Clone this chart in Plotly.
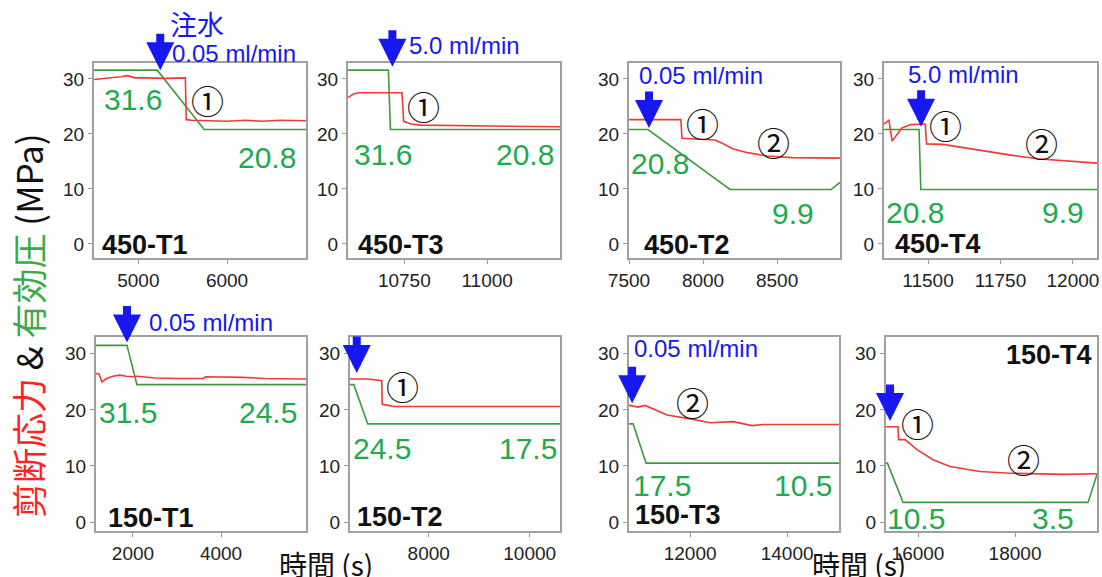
import plotly.graph_objects as go

# ---------------- data ----------------
panel_names = ["450-T1", "450-T3", "450-T2", "450-T4",
               "150-T1", "150-T2", "150-T3", "150-T4"]
flow_rates = ["0.05 ml/min", "5.0 ml/min", "0.05 ml/min", "5.0 ml/min",
              "0.05 ml/min", "0.05 ml/min", "0.05 ml/min", "0.05 ml/min"]
# effective pressure before / after injection (MPa)
pe_before = [31.6, 31.6, 20.8, 20.8, 31.5, 24.5, 17.5, 10.5]
pe_after = [20.8, 20.8, 9.9, 9.9, 24.5, 17.5, 10.5, 3.5]
# injection start time (s)
inject_t = [5247, 10714, 7635, 11476, 1864, 6574, 10804, 15423]

x_ranges = [[4500, 6890], [10580, 11220], [7500, 8925], [11348, 12083],
            [1160, 5930], [6440, 10600], [10740, 15070], [15340, 19690]]
x_ticks = [[5000, 6000], [10750, 11000], [7500, 8000, 8500],
           [11500, 11750, 12000], [2000, 4000], [8000, 10000],
           [12000, 14000], [16000, 18000]]

# shear stress (red)
shear_t = [
    [4500, 4650, 4800, 4880, 4960, 5100, 5300, 5530, 5540, 5600, 5800, 6000, 6200, 6400, 6600, 6890],
    [10580, 10595, 10610, 10743, 10748, 10770, 10800, 10900, 11000, 11100, 11220],
    [7500, 7850, 7858, 7950, 8080, 8130, 8200, 8300, 8430, 8600, 8925],
    [11348, 11365, 11376, 11410, 11440, 11490, 11495, 11550, 11600, 11680, 11780, 11876, 12000, 12083],
    [1160, 1230, 1295, 1400, 1545, 1700, 1850, 2000, 2100, 2500, 3000, 3600, 3650, 4500, 5000, 5930],
    [6440, 6800, 7069, 7079, 7200, 7300, 8000, 9000, 10600],
    [10740, 10928, 11072, 11300, 11526, 12000, 12412, 12887, 13278, 13500, 14000, 15070],
    [15340, 15588, 15600, 15732, 15979, 16309, 16660, 17278, 17897, 18500, 19000, 19690],
]
shear = [
    [29.9, 30.1, 30.4, 30.6, 30.2, 30.2, 30.1, 30.2, 22.6, 22.5, 22.4, 22.3, 22.5, 22.3, 22.5, 22.4],
    [26.6, 27.2, 27.5, 27.5, 22.3, 21.8, 21.6, 21.5, 21.5, 21.4, 21.3],
    [22.6, 22.6, 19.2, 19.1, 18.9, 18.3, 17.3, 16.6, 16.0, 15.7, 15.6],
    [21.8, 22.5, 18.7, 21.1, 21.7, 21.8, 18.2, 18.1, 17.7, 17.0, 16.2, 15.5, 15.0, 14.7],
    [26.5, 26.4, 25.0, 25.6, 26.0, 26.2, 26.0, 25.9, 26.0, 25.7, 25.6, 25.6, 25.9, 25.8, 25.6, 25.5],
    [25.5, 25.5, 25.2, 21.0, 20.8, 20.6, 20.6, 20.6, 20.6],
    [20.8, 20.5, 20.8, 20.0, 19.1, 18.4, 17.7, 17.9, 17.2, 17.4, 17.4, 17.4],
    [17.0, 17.0, 14.7, 14.7, 12.9, 11.1, 9.9, 9.0, 8.7, 8.6, 8.5, 8.6],
]

# effective pressure (green)
pe_t = [
    [4500, 5213, 5742, 6890],
    [10580, 10702, 10708, 11220],
    [7500, 7628, 8182, 8865, 8925],
    [11348, 11469, 11475, 12083],
    [1160, 1864, 2090, 5930],
    [6440, 6515, 6792, 10600],
    [10740, 10825, 11093, 15070],
    [15340, 15370, 15691, 19505, 19690],
]
pe = [
    [pe_before[0], pe_before[0], pe_after[0], pe_after[0]],
    [pe_before[1], pe_before[1], pe_after[1], pe_after[1]],
    [pe_before[2], pe_before[2], pe_after[2], pe_after[2], 11.2],
    [pe_before[3], pe_before[3], pe_after[3], pe_after[3]],
    [pe_before[4], pe_before[4], pe_after[4], pe_after[4]],
    [pe_before[5], pe_before[5], pe_after[5], pe_after[5]],
    [pe_before[6], pe_before[6], pe_after[6], pe_after[6]],
    [pe_before[7], pe_before[7], pe_after[7], pe_after[7], 8.5],
]

# ---------------- layout helpers ----------------
W, H = 1102, 577
FONT = "Liberation Sans, Arial, Noto Sans CJK JP, sans-serif"
CJK = "Noto Sans CJK JP, sans-serif"
RED = "#f03a3a"
GREEN_LINE = "#3f9a3f"
GREEN_TXT = "#1faa4f"
BLUE = "#1717f0"

# plot frames in pixels: (left, right, top, bottom)
frames = [(94, 306, 63, 258), (348, 560, 63, 258), (629, 840, 63, 258), (884, 1097, 63, 258),
          (96, 306, 337, 531), (350, 560, 337, 531), (629, 839, 337, 531), (886, 1097, 337, 531)]
y_ranges = [[-2.55, 32.9]] * 4 + [[-1.6, 33.0]] * 4

fig = go.Figure()
layout = dict(
    width=W, height=H, margin=dict(l=0, r=0, t=0, b=0, autoexpand=False),
    paper_bgcolor="white", plot_bgcolor="white", showlegend=False,
    font=dict(family=FONT, color="#222"),
)

for i in range(8):
    l, r, t, b = frames[i]
    sfx = "" if i == 0 else str(i + 1)
    layout["xaxis" + sfx] = dict(
        domain=[l / W, r / W], anchor="y" + sfx, range=x_ranges[i], automargin=False,
        tickvals=x_ticks[i], tickformat="d", ticks="outside", ticklen=4, tickcolor="#999",
        showline=True, mirror=True, linecolor="#a0a0a0", linewidth=2,
        showgrid=False, zeroline=False, tickfont=dict(size=19, color="#222"),
    )
    layout["yaxis" + sfx] = dict(
        domain=[1 - b / H, 1 - t / H], anchor="x" + sfx, range=y_ranges[i], automargin=False,
        tickvals=[0, 10, 20, 30], ticks="outside", ticklen=4, tickcolor="#999",
        showline=True, mirror=True, linecolor="#a0a0a0", linewidth=2,
        showgrid=False, zeroline=False, tickfont=dict(size=19, color="#222"),
    )
    fig.add_trace(go.Scatter(x=pe_t[i], y=pe[i], mode="lines",
                             line=dict(color=GREEN_LINE, width=1.6),
                             xaxis="x" + sfx, yaxis="y" + sfx))
    fig.add_trace(go.Scatter(x=shear_t[i], y=shear[i], mode="lines",
                             line=dict(color=RED, width=1.6),
                             xaxis="x" + sfx, yaxis="y" + sfx))

fig.update_layout(**layout)

# ---------------- annotations ----------------
# per panel: positions of the before/after pressure labels
pe_label_pos = [
    [(4944, 26.2), (6450, 15.8)],
    [(10687, 16.2), (11114, 16.2)],
    [(7709, 14.7), (8608, 5.6)],
    [(11455, 5.8), (11965, 5.8)],
    [(1886, 19.6), (5068, 19.6)],
    [(7069, 13.2), (9960, 13.2)],
    [(11423, 6.6), (14330, 6.6)],
    [(15959, 0.7), (18784, 0.7)],
]
name_pos = [(4573, -0.2, "left"), (10605, -0.2, "left"), (7588, -0.2, "left"),
            (11379, 0.0, "left"), (1386, 0.7, "left"), (6535, 0.9, "left"),
            (10825, 1.25, "left"), (19629, 29.8, "right")]
# flow-rate labels: x in data units, y as fraction of the plot height
rate_pos = [(5360, 1.049), (10759, 1.092), (7554, 0.935), (11424, 0.94),
            (2318, 1.077), (6436, 1.088), (10804, 0.94), (15320, 0.83)]
arrow_tip_y = [31.6, 32.2, 21.1, 21.3, 32.0, 26.6, 21.2, 18.0]
stage_marks = [
    [("①", 5775, 26.2)],
    [("①", 10807, 25.1)],
    [("①", 7993, 22.0), ("②", 8473, 18.5)],
    [("①", 11559, 21.6), ("②", 11890, 18.4)],
    [],
    [("①", 7485, 24.3)],
    [("②", 12041, 21.4)],
    [("①", 15979, 17.7), ("②", 18165, 11.3)],
]

ann = []
for i in range(8):
    sfx = "" if i == 0 else str(i + 1)
    xr, yr = "x" + sfx, "y" + sfx
    for val, (px, py) in zip([pe_before[i], pe_after[i]], pe_label_pos[i]):
        ann.append(dict(x=px, y=py, xref=xr, yref=yr, text=f"{val:.1f}",
                        showarrow=False, font=dict(size=30, color=GREEN_TXT)))
    nx, ny, anc = name_pos[i]
    ann.append(dict(x=nx, y=ny, xref=xr, yref=yr, text=f"<b>{panel_names[i]}</b>",
                    xanchor=anc, showarrow=False, font=dict(size=27, color="#111")))
    rx, ry = rate_pos[i]
    ann.append(dict(x=rx, y=ry, xref=xr, yref=yr + " domain", text=flow_rates[i],
                    xanchor="left", yanchor="middle",
                    showarrow=False, font=dict(size=24, color=BLUE)))
    ann.append(dict(x=inject_t[i], y=arrow_tip_y[i], xref=xr, yref=yr, text="",
                    showarrow=True, ax=0, ay=-38, arrowhead=2, arrowsize=0.7,
                    arrowwidth=8, arrowcolor=BLUE, standoff=0))
    for txt, sx, sy in stage_marks[i]:
        ann.append(dict(x=sx, y=sy, xref=xr, yref=yr, text=txt, showarrow=False,
                        font=dict(size=33, color="#111", family=CJK)))

# water injection label
ann.append(dict(x=5663, y=1.2, xref="x", yref="y domain", text="注水",
                xanchor="center", yanchor="middle", showarrow=False,
                font=dict(size=27, color=BLUE, family=CJK)))

# shared axis titles
ann.append(dict(x=27 / W, y=1 - 326 / H, xref="paper", yref="paper", textangle=-90,
                xanchor="center", yanchor="middle",
                showarrow=False, font=dict(size=35, family=CJK, color="#111"),
                text=f"<span style='color:#ff2222'>剪断応力</span> &amp; "
                     f"<span style='color:#3daa4a'>有効圧</span> (MPa)"))
for cx in (326, 859):
    ann.append(dict(x=cx / W, y=1 - 564 / H, xref="paper", yref="paper",
                    xanchor="center", yanchor="middle",
                    text="時間 (s)", showarrow=False,
                    font=dict(size=28, family=CJK, color="#111")))

fig.update_layout(annotations=ann)
fig.write_html("out.html")
